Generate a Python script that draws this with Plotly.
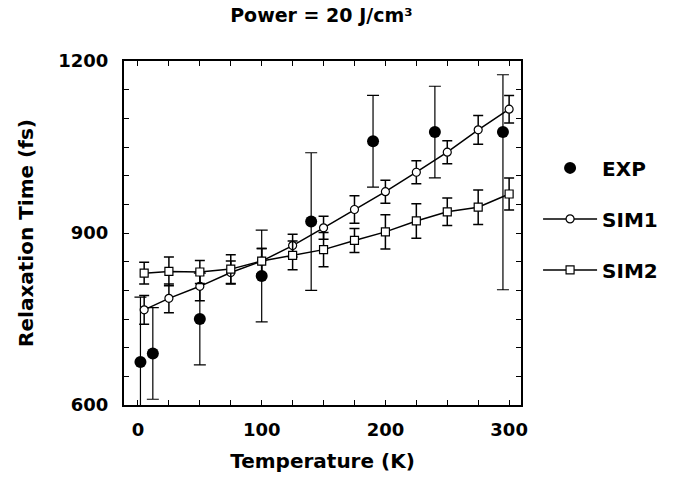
import plotly.graph_objects as go

# EXP data
exp_T = [2, 12, 50, 100, 140, 190, 240, 295]
exp_tau = [675, 690, 750, 825, 920, 1060, 1076, 1076]
exp_err_plus = [113, 80, 80, 80, 120, 80, 80, 100]
exp_err_minus = [113, 80, 80, 80, 120, 80, 80, 275]

# SIM1 data
sim_T = [5, 25, 50, 75, 100, 125, 150, 175, 200, 225, 250, 275, 300]
sim1_tau = [766, 786, 807, 831, 851, 878, 909, 941, 972, 1006, 1041, 1080, 1116]
sim1_err = [25, 25, 25, 20, 22, 20, 20, 24, 20, 20, 20, 25, 24]

# SIM2 data
sim2_tau = [830, 833, 832, 837, 851, 861, 871, 887, 902, 921, 937, 945, 968]
sim2_err = [19, 25, 20, 25, 22, 25, 30, 21, 30, 30, 24, 30, 28]

x_tickvals = list(range(0, 301, 25))
x_ticktext = [str(v) if v % 100 == 0 else "" for v in x_tickvals]
y_tickvals = list(range(600, 1201, 50))
y_ticktext = [str(v) if v % 300 == 0 else "" for v in y_tickvals]

FONT = "DejaVu Sans, Arial, sans-serif"

fig = go.Figure()
fig.add_trace(go.Scatter(
    x=exp_T, y=exp_tau, mode="markers", name="EXP", legendgroup="a",
    marker=dict(symbol="circle", size=12, color="black"),
    error_y=dict(type="data", symmetric=False, array=exp_err_plus,
                 arrayminus=exp_err_minus, color="black", thickness=1.2, width=6),
))
fig.add_trace(go.Scatter(
    x=sim_T, y=sim1_tau, mode="lines+markers", name="SIM1", legendgroup="b",
    line=dict(color="black", width=1.5),
    marker=dict(symbol="circle", size=8, color="white", line=dict(color="black", width=1.2)),
    error_y=dict(type="data", array=sim1_err, color="black", thickness=1.5, width=5),
))
fig.add_trace(go.Scatter(
    x=sim_T, y=sim2_tau, mode="lines+markers", name="SIM2", legendgroup="c",
    line=dict(color="black", width=1.5),
    marker=dict(symbol="square", size=8, color="white", line=dict(color="black", width=1.2)),
    error_y=dict(type="data", array=sim2_err, color="black", thickness=1.5, width=5),
))

axis_common = dict(
    showline=True, linecolor="black", linewidth=2, mirror="ticks",
    ticks="inside", ticklen=5, tickwidth=1, tickcolor="black",
    showgrid=False, zeroline=False,
    tickfont=dict(family=FONT, size=18, color="black", weight="bold"),
)

fig.update_layout(
    width=678, height=483,
    margin=dict(l=124, r=157, t=61, b=78),
    paper_bgcolor="white", plot_bgcolor="white",
    title=dict(text="Power = 20 J/cm³", x=0.474, xanchor="center", y=0.969, yanchor="middle",
               font=dict(family=FONT, size=19, color="black", weight="bold")),
    xaxis=dict(range=[-11.3, 309.6], tickvals=x_tickvals, ticktext=x_ticktext,
               title=dict(text="Temperature (K)", standoff=15,
                          font=dict(family=FONT, size=20, color="black", weight="bold")),
               ticklabelstandoff=7, **axis_common),
    yaxis=dict(range=[600, 1200], tickvals=y_tickvals, ticktext=y_ticktext,
               title=dict(text="Relaxation Time (fs)", standoff=19,
                          font=dict(family=FONT, size=20, color="black", weight="bold")),
               ticklabelstandoff=10, **axis_common),
    legend=dict(x=1.043, y=0.746, xanchor="left", yanchor="top",
                font=dict(family=FONT, size=20, color="black", weight="bold"),
                traceorder="grouped", tracegroupgap=22, bgcolor="rgba(0,0,0,0)",
                itemwidth=54),
    showlegend=True,
)

fig.write_html("out.html")
